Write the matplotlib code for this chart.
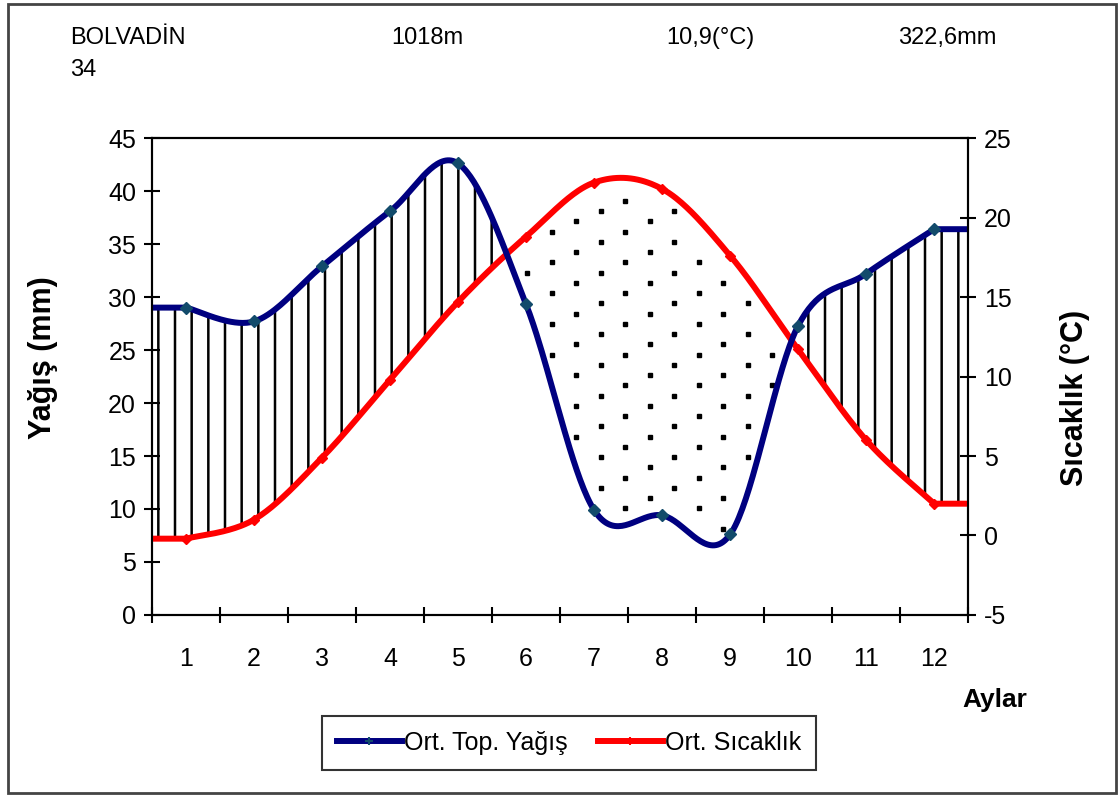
import numpy as np
import matplotlib
matplotlib.use("Agg")
import matplotlib.pyplot as plt
from matplotlib.lines import Line2D
from matplotlib.patches import Rectangle

plt.rcParams['font.family'] = ['Liberation Sans', 'DejaVu Sans']
plt.rcParams['hatch.linewidth'] = 1.8
plt.rcParams['hatch.color'] = 'black'
plt.rcParams['axes.unicode_minus'] = False

# Veriler
aylar = np.arange(1, 13)
yagis = np.array([29.0, 27.7, 32.9, 38.1, 42.6, 29.3, 9.9, 9.4, 7.6, 27.3, 32.2, 36.4])
sicaklik = np.array([-0.2, 1.0, 4.9, 9.8, 14.7, 18.8, 22.2, 21.8, 17.6, 11.7, 6.0, 2.0])

istasyon = "BOLVADİN"
istasyon_no = "34"
yukselti = "1018m"
ort_sicaklik = "10,9(°C)"
top_yagis = "322,6mm"

mavi = '#000080'
kirmizi = '#FF0000'
isaret = '#124B6B'


def smooth(x, y, n=40):
    # Excel tipi yumusatilmis cizgi (Catmull-Rom / Bezier)
    px = np.r_[x[0], x, x[-1]]
    py = np.r_[y[0], y, y[-1]]
    t = np.linspace(0, 1, n)
    xs, ys = [x[0] - 0.5], [y[0]]
    for i in range(len(x) - 1):
        x0, x1, x2, x3 = px[i:i + 4]
        y0, y1, y2, y3 = py[i:i + 4]
        cx1, cy1 = x1 + (x2 - x0) / 6, y1 + (y2 - y0) / 6
        cx2, cy2 = x2 - (x3 - x1) / 6, y2 - (y3 - y1) / 6
        b0 = (1 - t) ** 3
        b1 = 3 * (1 - t) ** 2 * t
        b2 = 3 * (1 - t) * t ** 2
        b3 = t ** 3
        xs.extend(b0 * x1 + b1 * cx1 + b2 * cx2 + b3 * x2)
        ys.extend(b0 * y1 + b1 * cy1 + b2 * cy2 + b3 * y2)
    xs.append(x[-1] + 0.5)
    ys.append(y[-1])
    return np.array(xs), np.array(ys)


# sicakligi sol eksen birimine cevir (-5..25 -> 0..45)
sic_mm = (sicaklik + 5) * 1.5

xs, ps = smooth(aylar, yagis)
_, ts = smooth(aylar, sic_mm)

fig = plt.figure(figsize=(11.18, 7.96), dpi=100)
ax = fig.add_axes([0.136, 0.2274, 0.730, 0.5992])

# nemli donem: dikey taramalar
ax.fill_between(xs, ps, ts, where=ps >= ts, interpolate=True, hatch='|',
                facecolor='none', edgecolor='black', linewidth=0, zorder=1)

# kurak donem: noktalar
dx, dy = 0.36, 2.9
gx, gy = [], []
for k, xc in enumerate(np.arange(0.62, 12.5, dx)):
    off = (k % 3) * dy / 3
    for yc in np.arange(0.4 + off, 45, dy):
        lo = np.interp(xc, xs, ps)
        hi = np.interp(xc, xs, ts)
        if lo + 0.9 < yc < hi - 1.2:
            gx.append(xc)
            gy.append(yc)
ax.plot(gx, gy, 's', color='black', markersize=2.8, linestyle='none', zorder=1)

ax.plot(xs, ts, color=kirmizi, lw=4.3, solid_capstyle='butt', zorder=3)
ax.plot(aylar, sic_mm, 'D', color=kirmizi, markersize=5, zorder=4)
ax.plot(xs, ps, color=mavi, lw=4.3, solid_capstyle='butt', zorder=3)
ax.plot(aylar, yagis, 'D', color=isaret, markersize=6, zorder=4)

ax.set_xlim(0.5, 12.5)
ax.set_ylim(0, 45)
ax.set_yticks(np.arange(0, 50, 5))
ax.set_xticks(np.arange(0.5, 13, 1))
ax.set_xticklabels([])
ax.set_xticks(aylar, minor=True)
ax.set_xticklabels([str(a) for a in aylar], minor=True)
ax.tick_params(axis='x', which='major', direction='inout', length=11, width=1.5)
ax.tick_params(axis='x', which='minor', length=0, pad=23, labelsize=18)
ax.tick_params(axis='y', direction='inout', length=11, width=1.5, labelsize=18, pad=6)
for s in ax.spines.values():
    s.set_linewidth(1.5)
ax.set_ylabel("Yağış (mm)", fontsize=22, fontweight='bold')
ax.yaxis.set_label_coords(-0.115, 0.54)

ax2 = ax.twinx()
ax2.set_ylim(-5, 25)
ax2.set_yticks(np.arange(-5, 30, 5))
ax2.tick_params(axis='y', direction='inout', length=11, width=1.5, labelsize=18, pad=6)
for s in ax2.spines.values():
    s.set_linewidth(1.5)
ax2.set_ylabel("Sıcaklık (°C)", fontsize=22, fontweight='bold')
ax2.yaxis.set_label_coords(1.113, 0.455)

fig.text(995 / 1118, 1 - 700 / 796, "Aylar", fontsize=19, fontweight='bold',
         ha='center', va='center')

# baslik bilgileri
fig.text(70 / 1118, 1 - 38 / 796, istasyon, fontsize=17, va='center')
fig.text(70 / 1118, 1 - 70 / 796, istasyon_no, fontsize=17, va='center')
fig.text(391 / 1118, 1 - 38 / 796, yukselti, fontsize=17, va='center')
fig.text(666 / 1118, 1 - 38 / 796, ort_sicaklik, fontsize=17, va='center')
fig.text(898 / 1118, 1 - 38 / 796, top_yagis, fontsize=17, va='center')

handles = [Line2D([], [], color=mavi, lw=4.3, marker='+', markersize=6,
                  markeredgecolor=isaret, markeredgewidth=1.5),
           Line2D([], [], color=kirmizi, lw=4.3, marker='+', markersize=6,
                  markeredgecolor=kirmizi, markeredgewidth=1.5)]
leg = fig.legend(handles, ["Ort. Top. Yağış", "Ort. Sıcaklık"], loc='center',
                 bbox_to_anchor=(0.509, 1 - 743 / 796), ncol=2, fontsize=18,
                 frameon=True, fancybox=False, edgecolor='black',
                 handlelength=2.6, handletextpad=0.1, columnspacing=1.2,
                 borderpad=0.6)
leg.get_frame().set_linewidth(1.5)

# disardaki cerceve
fig.patches.append(Rectangle((8 / 1118, 3 / 796), 1108 / 1118, 789 / 796,
                             transform=fig.transFigure, fill=False,
                             edgecolor='#444444', linewidth=2))

fig.savefig("out.png", dpi=100)
